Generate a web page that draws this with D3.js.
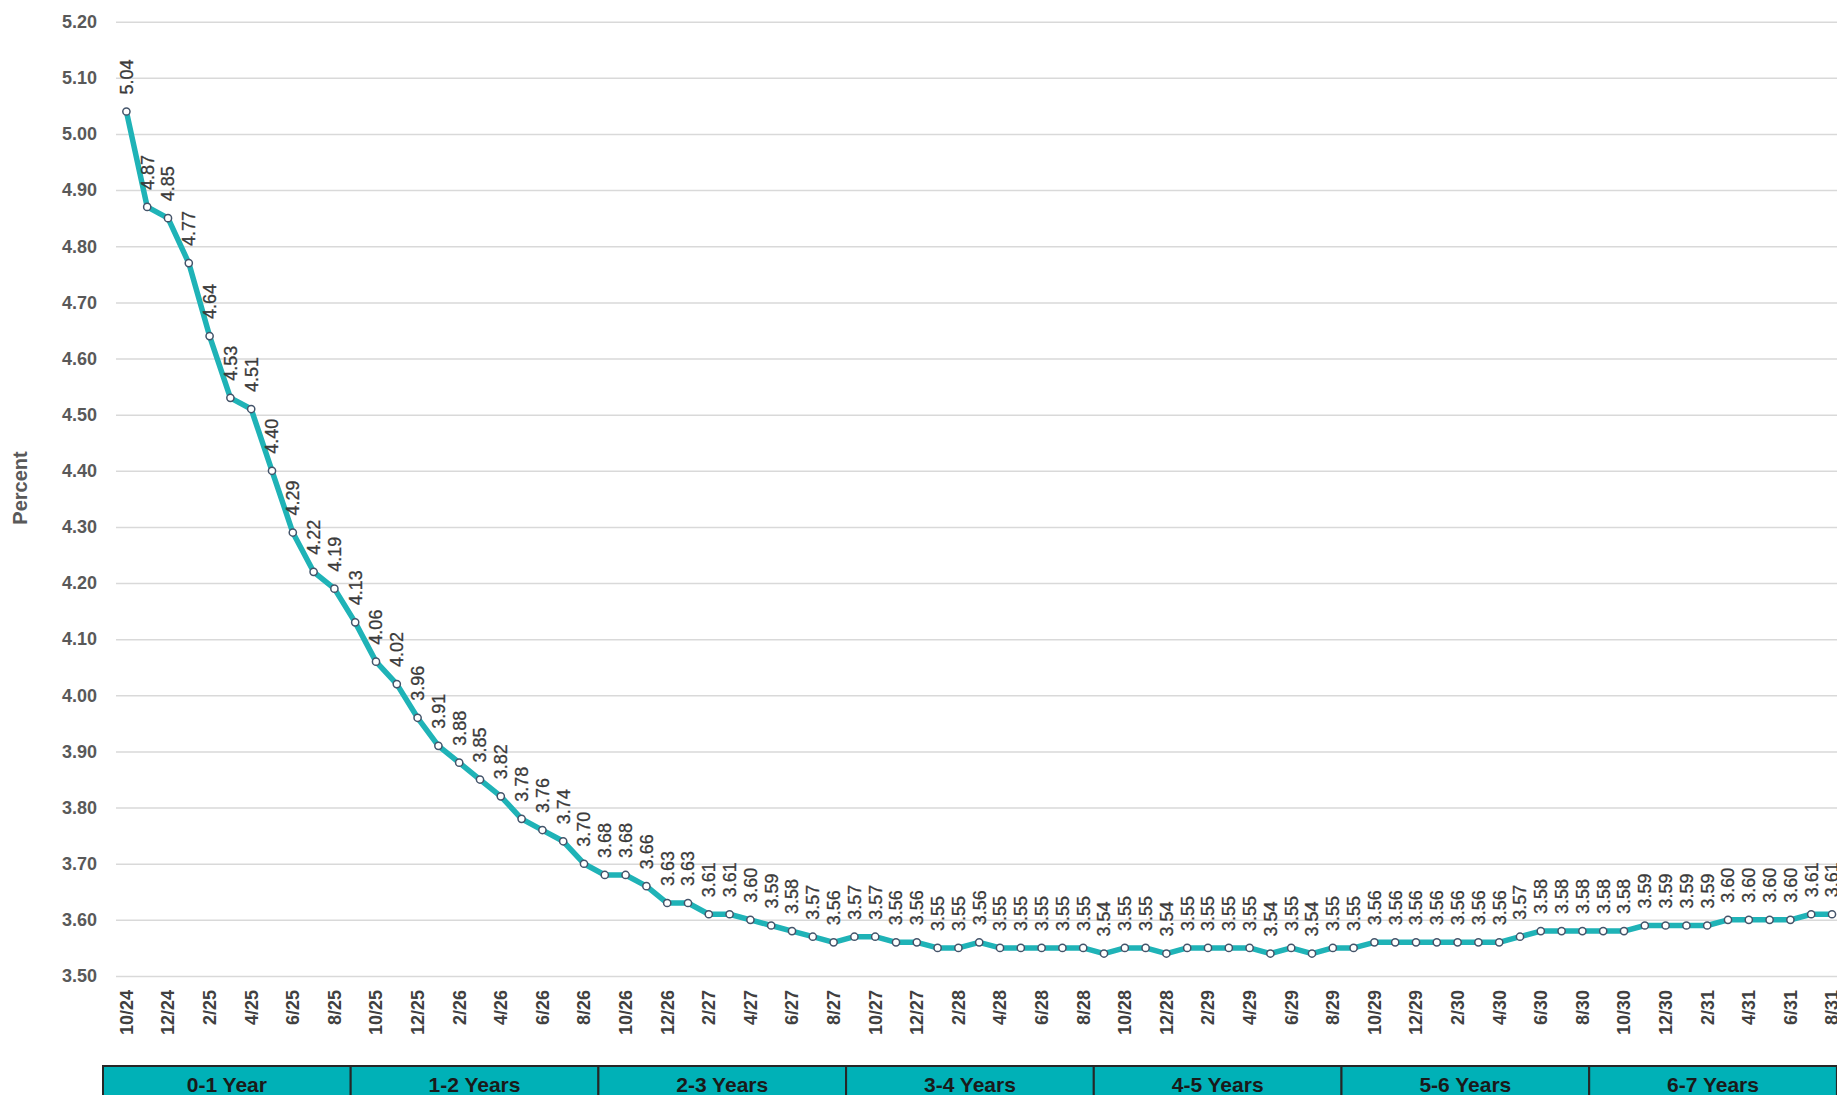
<!DOCTYPE html>
<html>
<head>
<meta charset="utf-8">
<script src="https://cdn.jsdelivr.net/npm/d3@7"></script>
<style>
  html, body { margin: 0; padding: 0; background: #ffffff; }
  svg { display: block; font-family: "Liberation Sans", Arial, sans-serif; }
</style>
</head>
<body>
<svg id="chart" width="1837" height="1095"></svg>
<script>
// Monthly points, October 2024 through August 2031
const months = [
  "10/24","11/24","12/24",
  "1/25","2/25","3/25","4/25","5/25","6/25","7/25","8/25","9/25","10/25","11/25","12/25",
  "1/26","2/26","3/26","4/26","5/26","6/26","7/26","8/26","9/26","10/26","11/26","12/26",
  "1/27","2/27","3/27","4/27","5/27","6/27","7/27","8/27","9/27","10/27","11/27","12/27",
  "1/28","2/28","3/28","4/28","5/28","6/28","7/28","8/28","9/28","10/28","11/28","12/28",
  "1/29","2/29","3/29","4/29","5/29","6/29","7/29","8/29","9/29","10/29","11/29","12/29",
  "1/30","2/30","3/30","4/30","5/30","6/30","7/30","8/30","9/30","10/30","11/30","12/30",
  "1/31","2/31","3/31","4/31","5/31","6/31","7/31","8/31"
];

// Rate in percent for each month
const rates = [
  5.04, 4.87, 4.85,
  4.77, 4.64, 4.53, 4.51, 4.40, 4.29, 4.22, 4.19, 4.13, 4.06, 4.02, 3.96,
  3.91, 3.88, 3.85, 3.82, 3.78, 3.76, 3.74, 3.70, 3.68, 3.68, 3.66, 3.63,
  3.63, 3.61, 3.61, 3.60, 3.59, 3.58, 3.57, 3.56, 3.57, 3.57, 3.56, 3.56,
  3.55, 3.55, 3.56, 3.55, 3.55, 3.55, 3.55, 3.55, 3.54, 3.55, 3.55, 3.54,
  3.55, 3.55, 3.55, 3.55, 3.54, 3.55, 3.54, 3.55, 3.55, 3.56, 3.56, 3.56,
  3.56, 3.56, 3.56, 3.56, 3.57, 3.58, 3.58, 3.58, 3.58, 3.58, 3.59, 3.59,
  3.59, 3.59, 3.60, 3.60, 3.60, 3.60, 3.61, 3.61
];

// Horizon buckets shown beneath the axis
const horizons = ["0-1 Year","1-2 Years","2-3 Years","3-4 Years","4-5 Years","5-6 Years","6-7 Years"];

// Value-axis ticks
const yTicks = [3.50,3.60,3.70,3.80,3.90,4.00,4.10,4.20,4.30,4.40,4.50,4.60,4.70,4.80,4.90,5.00,5.10,5.20];

const data = months.map((m, i) => ({ month: m, value: rates[i], i }));

const svg = d3.select("#chart");
const W = 1837, H = 1095;
const plotLeft = 116, step = 20.8;
const plotRight = plotLeft + months.length * step;
const plotTop = 21.7, plotBottom = 976;

svg.append("rect").attr("width", W).attr("height", H).attr("fill", "#ffffff");

const x = d3.scaleBand().domain(months).range([plotLeft, plotRight]).padding(0);
const cx = d => x(d.month) + x.bandwidth() / 2;
const y = d3.scaleLinear().domain([3.5, 5.2]).range([plotBottom, plotTop]);

// Gridlines and value labels
const yAxis = svg.append("g")
  .attr("transform", `translate(${plotLeft},0)`)
  .call(d3.axisLeft(y)
    .tickValues(yTicks)
    .tickFormat(d3.format(".2f"))
    .tickSize(-(W - plotLeft))
    .tickPadding(19));
yAxis.select(".domain").remove();
yAxis.selectAll(".tick line").attr("stroke", "#d9d9d9").attr("stroke-width", 1.5);
yAxis.selectAll(".tick text")
  .attr("fill", "#595959")
  .attr("font-size", 18)
  .attr("font-weight", "bold")
  .attr("font-family", "'Liberation Sans', Arial, sans-serif");

// Axis title
svg.append("text")
  .attr("transform", `translate(20,488) rotate(-90)`)
  .attr("text-anchor", "middle")
  .attr("dy", "0.35em")
  .attr("fill", "#595959")
  .attr("font-size", 20)
  .attr("font-weight", "bold")
  .text("Percent");

// Category labels, every other month
const xAxis = svg.append("g")
  .attr("transform", `translate(0,${plotBottom})`)
  .call(d3.axisBottom(x)
    .tickValues(months.filter((m, i) => i % 2 === 0))
    .tickSize(0)
    .tickPadding(0));
xAxis.select(".domain").remove();
xAxis.selectAll(".tick text")
  .attr("transform", "rotate(-90)")
  .attr("x", -14)
  .attr("y", 0)
  .attr("dy", "0.35em")
  .attr("text-anchor", "end")
  .attr("fill", "#404040")
  .attr("font-size", 18)
  .attr("font-weight", "bold")
  .attr("font-family", "'Liberation Sans', Arial, sans-serif");

// Rate line
const line = d3.line().x(cx).y(d => y(d.value));
svg.append("path")
  .datum(data)
  .attr("d", line)
  .attr("fill", "none")
  .attr("stroke", "#1fb3b7")
  .attr("stroke-width", 5.5)
  .attr("stroke-linejoin", "round")
  .attr("stroke-linecap", "round");

// Point markers
svg.append("g").selectAll("circle")
  .data(data)
  .join("circle")
  .attr("cx", cx)
  .attr("cy", d => y(d.value))
  .attr("r", 3.6)
  .attr("fill", "#ffffff")
  .attr("stroke", "#44546a")
  .attr("stroke-width", 1.5);

// Value labels above each point
svg.append("g").selectAll("text")
  .data(data)
  .join("text")
  .attr("transform", d => `translate(${cx(d)},${y(d.value) - 17}) rotate(-90)`)
  .attr("text-anchor", "start")
  .attr("dy", "0.35em")
  .attr("fill", "#3a3a3a")
  .attr("font-size", 18)
  .attr("stroke", "#3a3a3a")
  .attr("stroke-width", 0.3)
  .text(d => d3.format(".2f")(d.value));

// Horizon bucket table
const hx = d3.scaleBand().domain(horizons).range([103, 103 + horizons.length * 247.7]);
const table = svg.append("g");
table.selectAll("rect")
  .data(horizons)
  .join("rect")
  .attr("x", d => hx(d))
  .attr("y", 1066)
  .attr("width", hx.bandwidth())
  .attr("height", 40)
  .attr("fill", "#00b1b7")
  .attr("stroke", "#262626")
  .attr("stroke-width", 2);
table.selectAll("text")
  .data(horizons)
  .join("text")
  .attr("x", d => hx(d) + hx.bandwidth() / 2)
  .attr("y", 1092)
  .attr("text-anchor", "middle")
  .attr("fill", "#1a1a1a")
  .attr("font-size", 21)
  .attr("font-weight", "bold")
  .text(d => d);
</script>
</body>
</html>
